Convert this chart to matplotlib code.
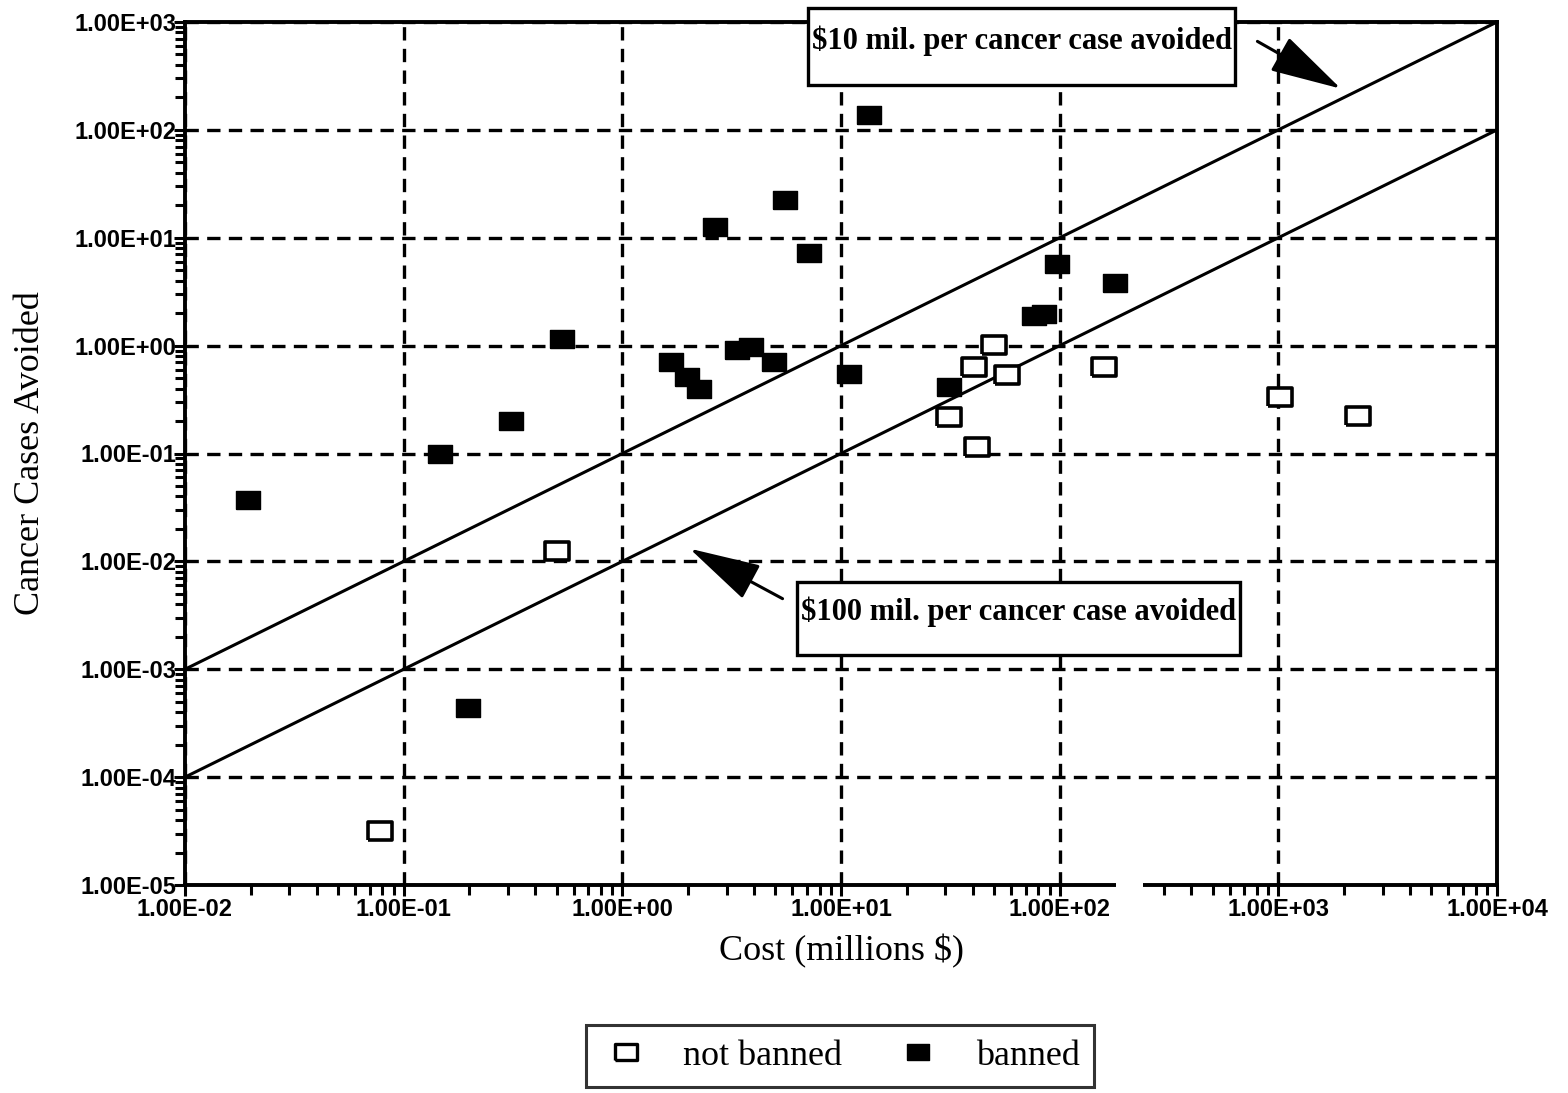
import matplotlib
matplotlib.use("Agg")
import matplotlib.pyplot as plt
from matplotlib.patches import Rectangle
from matplotlib.lines import Line2D
import numpy as np

# ---------------- data ----------------
banned_cost = [0.0194, 0.146, 0.311, 0.532, 0.196, 1.67, 1.98, 2.25, 2.66, 3.35,
               3.88, 4.94, 5.55, 7.14, 10.9, 13.4, 31.1, 76.0, 84.5, 96.9, 180.0]
banned_cases = [0.0367, 0.098, 0.202, 1.14, 4.35e-4, 0.70, 0.51, 0.40, 12.6, 0.92,
                0.98, 0.71, 22.5, 7.26, 0.54, 138.0, 0.41, 1.90, 1.95, 5.7, 3.83]

notbanned_cost = [0.0777, 0.50, 31.1, 40.5, 41.8, 50.0, 57.3, 159.0, 1020.0, 2317.0]
notbanned_cases = [3.2e-5, 0.0124, 0.22, 0.64, 0.114, 1.02, 0.53, 0.64, 0.337, 0.225]

# reference lines: cost per cancer case avoided (millions $)
line_cost = np.array([1e-2, 1e4])
per_case = [10, 100]
line_labels = ["$10 mil. per cancer case avoided", "$100 mil. per cancer case avoided"]

serif = ["Liberation Serif", "DejaVu Serif"]
narrow = ["Liberation Sans Narrow", "Liberation Sans", "DejaVu Sans"]

# ---------------- figure ----------------
fig = plt.figure(figsize=(15.68, 10.93), dpi=100)
ax = fig.add_axes([185 / 1568, 1 - 885 / 1093, (1497 - 185) / 1568, (885 - 22) / 1093])

ax.set_xscale('log')
ax.set_yscale('log')
ax.set_xlim(1e-2, 1e4)
ax.set_ylim(1e-5, 1e3)

ax.grid(True, which='major', color='black', linestyle=(0, (4, 2.5)), linewidth=2.4)
ax.set_axisbelow(True)

for c in per_case:
    ax.plot(line_cost, line_cost / c, color='black', linewidth=2.2, zorder=3)

# wide rectangle marker
rect = [(-1.35, -1), (1.35, -1), (1.35, 1), (-1.35, 1), (-1.35, -1)]
ax.plot(notbanned_cost, notbanned_cases, linestyle='none', marker=rect, markersize=17,
        markerfacecolor='white', markeredgecolor='black', markeredgewidth=2.6, zorder=4,
        label='not banned')
ax.plot(banned_cost, banned_cases, linestyle='none', marker=rect, markersize=17,
        markerfacecolor='black', markeredgecolor='black', markeredgewidth=1, zorder=4,
        label='banned')

for sp in ax.spines.values():
    sp.set_linewidth(2.8)

ax.set_xticks([1e-2, 1e-1, 1e0, 1e1, 1e2, 1e3, 1e4])
ax.set_yticks([1e-5, 1e-4, 1e-3, 1e-2, 1e-1, 1e0, 1e1, 1e2, 1e3])
fmt = lambda v: "%.2E" % v
ax.set_xticklabels([fmt(v) for v in ax.get_xticks()])
ax.set_yticklabels([fmt(v) for v in ax.get_yticks()])
ax.tick_params(which='major', direction='out', length=8, width=2.2, pad=1, labelsize=17)
ax.tick_params(which='minor', direction='out', length=7, width=2.2)
for lab in ax.get_xticklabels() + ax.get_yticklabels():
    lab.set_family(narrow)
    lab.set_fontweight('bold')
ax.tick_params(axis='y', pad=-2)

ax.set_xlabel("Cost (millions $)", family=serif, fontsize=26, labelpad=10)
ax.set_ylabel("Cancer Cases Avoided", family=serif, fontsize=26, labelpad=20)

# scan gap in the bottom axis line
fig.patches.append(Rectangle((1116 / 1568, 1 - 898 / 1093), 27 / 1568, 18 / 1093,
                             transform=fig.transFigure, facecolor='white',
                             edgecolor='none', zorder=10))

# ---------------- annotation boxes and arrows ----------------
def px(x, y):
    return (x / 1568, 1 - y / 1093)

boxes = [(808, 8, 1235, 85, 41), (797, 582, 1240, 655, 612)]
for (x0, y0, x1, y1, ty), lab in zip(boxes, line_labels):
    fig.patches.append(Rectangle(px(x0, y1), (x1 - x0) / 1568, (y1 - y0) / 1093,
                                 transform=fig.transFigure, facecolor='white',
                                 edgecolor='black', linewidth=2.4, zorder=5))
    fig.text((x0 + x1) / 2 / 1568, 1 - ty / 1093, lab, family=serif, fontweight='bold',
             fontsize=22, ha='center', va='center', zorder=6)

arrow_kw = dict(arrowstyle='-|>,head_length=1.5,head_width=0.4', color='black',
                linewidth=2.2, mutation_scale=30)
ax.annotate("", xy=(1982, 234), xycoords='data', xytext=px(1255, 40),
            textcoords='figure fraction', arrowprops=arrow_kw, zorder=6)
ax.annotate("", xy=(1.98, 0.0135), xycoords='data', xytext=px(785, 600),
            textcoords='figure fraction', arrowprops=arrow_kw, zorder=6)

# ---------------- legend ----------------
handles = [Line2D([], [], linestyle='none', marker=rect, markersize=16, markerfacecolor='white',
                  markeredgecolor='black', markeredgewidth=2.4),
           Line2D([], [], linestyle='none', marker=rect, markersize=16, markerfacecolor='black',
                  markeredgecolor='black')]
leg = fig.legend(handles, ['not banned', 'banned'], ncol=2, loc='center',
                 bbox_to_anchor=px(840, 1056), frameon=True, fancybox=False,
                 prop={'family': serif, 'size': 26}, handletextpad=0.9,
                 columnspacing=1.4, borderpad=0.4, handlelength=1.4)
leg.get_frame().set_edgecolor('black')
leg.get_frame().set_linewidth(2.2)

fig.savefig("out.png", dpi=100)
